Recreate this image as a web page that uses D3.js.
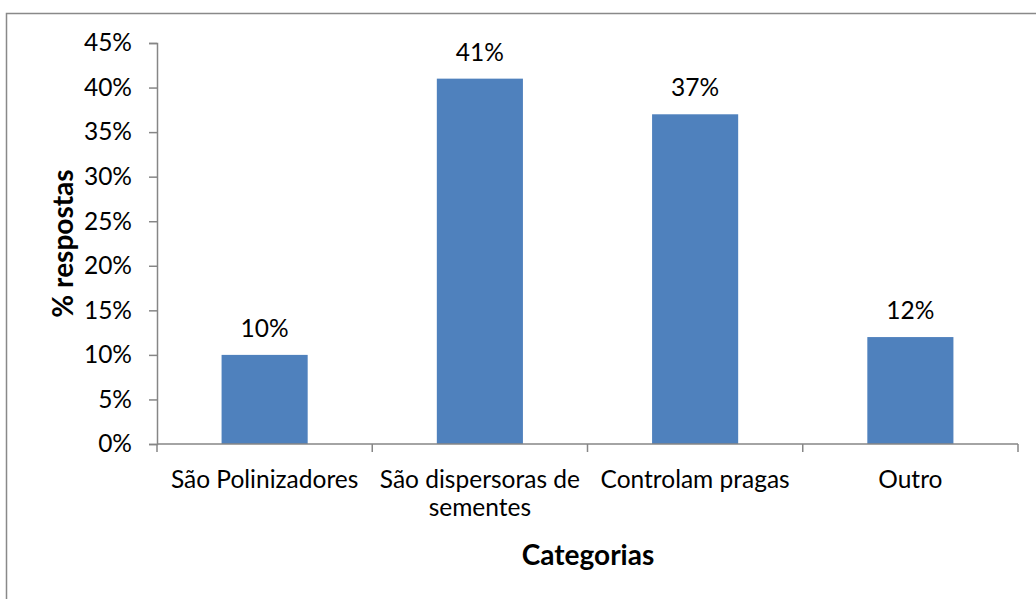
<!DOCTYPE html>
<html>
<head>
<meta charset="utf-8">
<script src="https://cdn.jsdelivr.net/npm/d3@7"></script>
<style>
  body { margin: 0; background: #fff; }
  text { font-family: Lato, "Open Sans", sans-serif; fill: #000; }
</style>
</head>
<body>
<svg id="chart" width="1036" height="599"></svg>
<script>
// data
let categories = [["São Polinizadores"], ["São dispersoras de", "sementes"], ["Controlam pragas"], ["Outro"]];
let values = [0.10, 0.41, 0.37, 0.12];
let yTicks = [0, 0.05, 0.10, 0.15, 0.20, 0.25, 0.30, 0.35, 0.40, 0.45];

let svg = d3.select("#chart"),
    margin = {top: 43, right: 18, bottom: 155, left: 157},
    width = +svg.attr("width") - margin.left - margin.right,
    height = +svg.attr("height") - margin.top - margin.bottom;

let axisColor = "#868686",
    barColor = "#4f81bd",
    fontSize = 24.5;

// outer chart border (runs off the right and bottom edges)
svg.append("rect")
    .attr("x", 6.5)
    .attr("y", 13.5)
    .attr("width", 1100)
    .attr("height", 700)
    .attr("fill", "none")
    .attr("stroke", "#898989")
    .attr("stroke-width", 1.5);

let x = d3.scaleBand()
    .domain(d3.range(categories.length))
    .range([0, width])
    .paddingInner(0.6)
    .paddingOuter(0.3);

let y = d3.scaleLinear()
    .domain([0, 0.45])
    .range([height, 0]);

let g = svg.append("g")
    .attr("transform", "translate(" + margin.left + "," + margin.top + ")");

// bars
g.selectAll(".bar")
    .data(values)
    .enter().append("rect")
    .attr("class", "bar")
    .attr("x", (d, i) => x(i))
    .attr("y", d => y(d))
    .attr("width", x.bandwidth())
    .attr("height", d => height - y(d))
    .attr("fill", barColor);

// data labels
g.selectAll(".label")
    .data(values)
    .enter().append("text")
    .attr("class", "label")
    .attr("x", (d, i) => x(i) + x.bandwidth() / 2)
    .attr("y", d => y(d) - 18)
    .attr("text-anchor", "middle")
    .attr("font-size", fontSize)
    .text(d => Math.round(d * 100) + "%");

// y axis
let yAxis = g.append("g")
    .attr("font-family", null)
    .call(d3.axisLeft(y)
        .tickValues(yTicks)
        .tickSize(8)
        .tickPadding(17)
        .tickFormat(d => Math.round(d * 100) + "%"));
yAxis.attr("font-family", null);
yAxis.select(".domain").attr("stroke", axisColor).attr("stroke-width", 1.5);
yAxis.selectAll(".tick line").attr("stroke", axisColor).attr("stroke-width", 1.5);
yAxis.selectAll(".tick text")
    .attr("font-size", fontSize)
    .attr("fill", "#000");

// x axis: baseline with ticks between categories
let xg = g.append("g").attr("transform", "translate(0," + height + ")");
xg.append("line")
    .attr("x1", 0).attr("x2", width)
    .attr("stroke", axisColor).attr("stroke-width", 1.5);
let edges = d3.range(categories.length + 1).map(i => i * x.step());
xg.selectAll(".xtick")
    .data(edges)
    .enter().append("line")
    .attr("class", "xtick")
    .attr("x1", d => d).attr("x2", d => d)
    .attr("y1", 0).attr("y2", 8)
    .attr("stroke", axisColor).attr("stroke-width", 1.5);

let catText = xg.selectAll(".cat")
    .data(categories)
    .enter().append("text")
    .attr("class", "cat")
    .attr("text-anchor", "middle")
    .attr("font-size", fontSize)
    .attr("transform", (d, i) => "translate(" + (x(i) + x.bandwidth() / 2) + ",44)");
catText.selectAll("tspan")
    .data(d => d)
    .enter().append("tspan")
    .attr("x", 0)
    .attr("dy", (d, i) => i === 0 ? 0 : 28)
    .text(d => d);

// axis titles
svg.append("text")
    .attr("x", 588)
    .attr("y", 565)
    .attr("text-anchor", "middle")
    .attr("font-size", 28)
    .attr("font-weight", "bold")
    .text("Categorias");

svg.append("text")
    .attr("transform", "translate(73," + (margin.top + height / 2) + ") rotate(-90)")
    .attr("text-anchor", "middle")
    .attr("font-size", 28)
    .attr("font-weight", "bold")
    .text("% respostas");
</script>
</body>
</html>
